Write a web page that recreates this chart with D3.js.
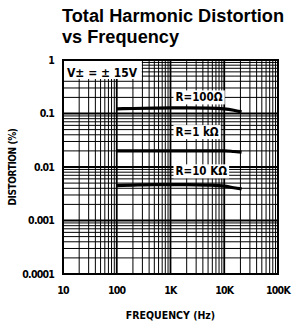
<!DOCTYPE html>
<html><head><meta charset="utf-8">
<script src="https://cdn.jsdelivr.net/npm/d3@7"></script>
<style>body{margin:0;background:#fff}svg{display:block}</style>
</head><body>
<script>
const xTicks = [10, 100, 1000, 10000, 100000];
const xTickLabels = ["10", "100", "1K", "10K", "100K"];
const yTicks = [0.0001, 0.001, 0.01, 0.1, 1];
const yTickLabels = ["0.0001", "0.001", "0.01", "0.1", "1"];
const seriesNames = ["R=100Ω", "R=1 kΩ", "R=10 KΩ"];
const freq = [100, 200, 500, 1000, 2000, 5000, 10000, 15000, 21000];
const thd100 = [0.122, 0.124, 0.126, 0.127, 0.127, 0.126, 0.122, 0.115, 0.107];
const thd1k = [0.020, 0.020, 0.020, 0.020, 0.020, 0.020, 0.020, 0.0195, 0.019];
const thd10k = [0.0045, 0.0046, 0.0047, 0.0047, 0.0047, 0.0046, 0.0044, 0.0041, 0.0039];
const seriesVals = [thd100, thd1k, thd10k];

const W = 292, H = 324;
const m = {l: 63, r: 14, t: 60, b: 50};
const svg = d3.select("body").append("svg").attr("width", W).attr("height", H);
const x = d3.scaleLog().domain([10, 100000]).range([m.l, W - m.r]);
const y = d3.scaleLog().domain([0.0001, 1]).range([H - m.b, m.t]);

// title
const tf = "Liberation Sans, Arial, sans-serif";
svg.append("text").attr("x", 62).attr("y", 22).attr("font-family", tf).attr("font-weight", "bold")
  .attr("font-size", 17.5).attr("textLength", 222).attr("lengthAdjust", "spacingAndGlyphs").text("Total Harmonic Distortion");
svg.append("text").attr("x", 62).attr("y", 43).attr("font-family", tf).attr("font-weight", "bold")
  .attr("font-size", 17.5).attr("textLength", 117).attr("lengthAdjust", "spacingAndGlyphs").text("vs Frequency");

// grid
const g = svg.append("g");
const minorX = [], minorY = [];
for (let d = 10; d < 100000; d *= 10) for (let k = 2; k <= 9; k++) minorX.push(d * k);
for (let d = 0.0001; d < 0.99; d *= 10) for (let k = 2; k <= 9; k++) minorY.push(d * k);
g.selectAll(".vx").data(minorX).enter().append("line")
  .attr("x1", d => x(d)).attr("x2", d => x(d)).attr("y1", m.t).attr("y2", H - m.b)
  .attr("stroke", "#000").attr("stroke-width", 1);
g.selectAll(".hy").data(minorY).enter().append("line")
  .attr("y1", d => y(d)).attr("y2", d => y(d)).attr("x1", m.l).attr("x2", W - m.r)
  .attr("stroke", "#000").attr("stroke-width", 1);
g.selectAll(".vM").data(xTicks).enter().append("line")
  .attr("x1", d => x(d)).attr("x2", d => x(d)).attr("y1", m.t).attr("y2", H - m.b)
  .attr("stroke", "#000").attr("stroke-width", 1.8);
g.selectAll(".hM").data(yTicks).enter().append("line")
  .attr("y1", d => y(d)).attr("y2", d => y(d)).attr("x1", m.l).attr("x2", W - m.r)
  .attr("stroke", "#000").attr("stroke-width", 1.8);
g.append("rect").attr("x", m.l).attr("y", m.t).attr("width", W - m.r - m.l).attr("height", H - m.b - m.t)
  .attr("fill", "none").attr("stroke", "#000").attr("stroke-width", 2);

// curves
const line = d3.line().x(d => x(d[0])).y(d => y(d[1])).curve(d3.curveMonotoneX);
seriesVals.forEach(vals => {
  svg.append("path").datum(freq.map((f, i) => [f, vals[i]]))
    .attr("d", line).attr("fill", "none").attr("stroke", "#000").attr("stroke-width", 3.2);
});

// labels with white boxes
const labelPos = [[1000, 0.2], [1000, 0.045], [1000, 0.0083]];
const lf = "DejaVu Sans Condensed, DejaVu Sans, sans-serif";
seriesNames.forEach((n, i) => {
  const t = svg.append("text").attr("x", x(labelPos[i][0]) + 5).attr("y", y(labelPos[i][1]))
    .attr("dy", "0.35em").attr("font-family", lf).attr("font-weight", "bold").attr("font-size", 11.5).text(n);
  const bb = t.node().getBBox();
  svg.insert("rect", () => t.node()).attr("x", bb.x - 2).attr("y", bb.y).attr("width", bb.width + 4).attr("height", bb.height).attr("fill", "#fff");
});

// supply box
{
  const t = svg.append("text").attr("x", 67).attr("y", 73).attr("dy", "0.35em")
    .attr("font-family", lf).attr("font-weight", "bold").attr("font-size", 12).text("V± = ± 15V");
  const bb = t.node().getBBox();
  svg.insert("rect", () => t.node()).attr("x", m.l + 1).attr("y", m.t + 1).attr("width", bb.x + bb.width + 3 - m.l).attr("height", 18).attr("fill", "#fff");
}

// axes labels
const af = "DejaVu Sans Condensed, DejaVu Sans, sans-serif";
svg.selectAll(".yl").data(yTicks).enter().append("text")
  .attr("x", 54).attr("y", d => y(d)).attr("dy", "0.35em").attr("text-anchor", "end")
  .attr("font-family", af).attr("font-weight", "bold").attr("font-size", 10.5).attr("letter-spacing", -0.8)
  .text((d, i) => yTickLabels[i]);
svg.selectAll(".xl").data(xTicks).enter().append("text")
  .attr("x", d => x(d)).attr("y", 294).attr("text-anchor", "middle")
  .attr("font-family", af).attr("font-weight", "bold").attr("font-size", 10.5).attr("letter-spacing", -0.8)
  .text((d, i) => xTickLabels[i]);
svg.append("text").attr("x", x(1000)).attr("y", 319).attr("text-anchor", "middle")
  .attr("font-family", af).attr("font-weight", "bold").attr("font-size", 10.5).text("FREQUENCY (Hz)");
svg.append("text").attr("transform", `translate(16,${(m.t + H - m.b) / 2}) rotate(-90)`).attr("text-anchor", "middle")
  .attr("font-family", af).attr("font-weight", "bold").attr("font-size", 10).attr("letter-spacing", -0.4).text("DISTORTION (%)");
</script>
</body></html>
